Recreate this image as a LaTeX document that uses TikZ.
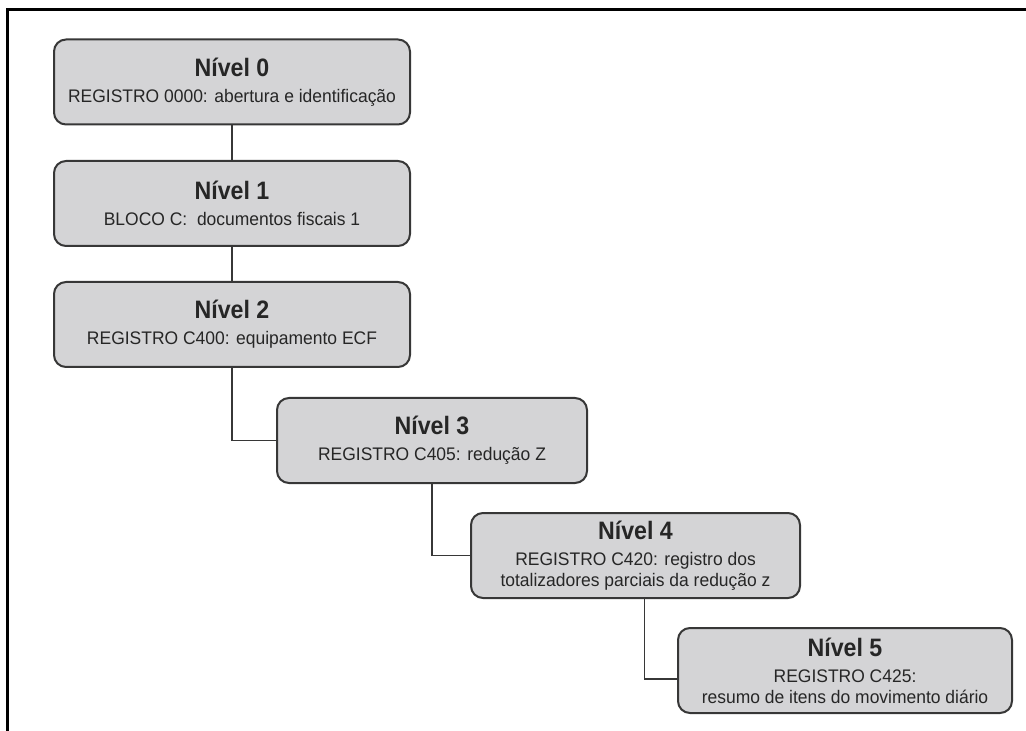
\documentclass[tikz,border=0pt]{standalone}
\usepackage{fontspec}
\setmainfont{Liberation Sans}[FakeStretch=0.96]
\newfontfamily\titfont{Liberation Sans}[FakeStretch=0.92]
\usetikzlibrary{calc}
\definecolor{box-gray}{RGB}{212, 212, 214}
\definecolor{box-line}{RGB}{55, 55, 55}
\newcommand{\nivel}[2]{{\titfont\bfseries\fontsize{12.6}{15}\selectfont Nível #1}\\[2.5pt]#2}

\begin{document}
\begin{tikzpicture}[x=0.5pt, y=-0.5pt,
	nivbox/.style={draw=box-line, line width=1pt, fill=box-gray, rounded corners=6pt,
		align=center, inner sep=0pt, minimum height=42.5pt, text=black!85,
		font=\fontsize{9.1}{10.5}\selectfont},
	link/.style={draw=box-line, line width=0.8pt}]
	
\useasboundingbox (0,0) rectangle (1026,731);
\draw [line width=1.5pt] (1026,10) -- (7,10) -- (7,731);

\node [nivbox, minimum width=178pt] (n0) at (232,82) {\nivel{0}{REGISTRO 0000: abertura e identificação}};
\node [nivbox, minimum width=178pt] (n1) at (232,203.5) {\nivel{1}{BLOCO C:\ \ documentos fiscais 1}};
\node [nivbox, minimum width=178pt] (n2) at (232,324.5) {\nivel{2}{REGISTRO C400: equipamento ECF}};
\node [nivbox, minimum width=155pt] (n3) at (432,440.5) {\nivel{3}{REGISTRO C405: redução Z}};
\node [nivbox, minimum width=164.5pt] (n4) at (635.5,555.5) {\nivel{4}{REGISTRO C420: registro dos\\totalizadores parciais da redução z}};
\node [nivbox, minimum width=167pt] (n5) at (845,670.5) {\nivel{5}{REGISTRO C425:\\resumo de itens do movimento diário}};

\draw [link] (n0) -- (n1);
\draw [link] (n1) -- (n2);
\draw [link] (n2.south) |- (n3.west);
\draw [link] (n3.south) |- (n4.west);
\draw [link] ([xshift=4.5pt]n4.south) |- ([yshift=-4.25pt]n5.west);

\end{tikzpicture}
\end{document}
